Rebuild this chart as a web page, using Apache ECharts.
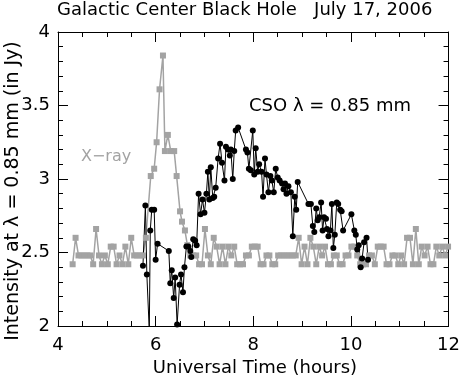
<!DOCTYPE html>
<html>
<head>
<meta charset="utf-8">
<script src="https://cdn.jsdelivr.net/npm/echarts@6/dist/echarts.min.js"></script>
<style>
html,body{margin:0;padding:0;background:#fff;}
#chart{width:463px;height:379px;}
</style>
</head>
<body>
<div id="chart"></div>
<script>
// X-ray (grey squares)
const xrayTime = [4.30,4.36,4.42,4.48,4.54,4.60,4.66,4.72,4.78,4.84,4.90,4.96,5.02,5.08,5.14,5.20,5.26,5.32,5.38,5.44,5.50,5.56,5.62,5.68,5.74,5.80,
  5.90,5.97,6.02,6.08,6.15,6.19,6.25,6.31,6.38,6.43,6.50,6.54,6.60,6.65,6.71,
  6.77,6.83,6.89,6.95,7.01,7.07,7.13,7.19,7.25,7.31,7.37,7.43,7.49,7.55,7.61,7.67,7.73,7.79,7.85,7.91,7.97,
  8.03,8.09,8.15,8.21,8.27,8.33,8.39,8.45,8.51,8.57,8.63,8.69,8.75,8.81,8.87,8.93,8.99,
  9.05,9.11,9.17,9.23,9.29,9.35,9.41,9.47,9.53,9.59,9.65,9.71,9.77,9.83,9.89,9.95,
  10.01,10.07,10.13,10.19,10.25,10.31,10.37,10.43,10.49,10.55,10.61,10.67,10.73,10.79,10.85,10.91,10.97,
  11.03,11.09,11.15,11.21,11.27,11.33,11.39,11.45,11.51,11.57,11.63,11.69,11.75,11.81,11.87,11.93,11.99];
const xrayValue = [2.42,2.60,2.48,2.48,2.48,2.48,2.48,2.42,2.66,2.48,2.42,2.48,2.42,2.54,2.54,2.42,2.48,2.42,2.54,2.42,2.60,2.48,2.48,2.48,2.48,2.60,
  3.02,3.07,3.25,3.61,3.84,3.19,3.30,3.19,3.19,3.02,2.78,2.71,2.65,2.55,2.48,
  2.48,2.48,2.42,2.42,2.66,2.48,2.42,2.60,2.54,2.42,2.54,2.42,2.54,2.48,2.54,2.42,2.42,2.42,2.48,2.48,2.54,
  2.54,2.54,2.42,2.42,2.48,2.48,2.42,2.42,2.48,2.48,2.48,2.48,2.48,2.48,2.48,2.60,2.42,
  2.54,2.42,2.60,2.54,2.42,2.54,2.48,2.54,2.42,2.42,2.48,2.48,2.42,2.42,2.48,2.48,
  2.54,2.54,2.48,2.42,2.42,2.42,2.48,2.48,2.42,2.54,2.54,2.54,2.42,2.42,2.48,2.48,2.42,
  2.48,2.42,2.60,2.60,2.42,2.66,2.42,2.54,2.48,2.54,2.42,2.42,2.54,2.48,2.54,2.48,2.54];

// CSO 0.85 mm (black circles)
const csoTime = [5.74,5.79,5.82,5.87,5.89,5.92,5.97,6.00,6.04,6.27,
  6.30,6.33,6.37,6.40,6.44,6.49,6.52,6.56,6.59,6.63,
  6.67,6.71,6.73,6.77,6.81,6.84,6.88,6.92,6.96,7.00,
  7.04,7.07,7.10,7.13,7.17,7.20,7.23,7.28,7.32,7.36,
  7.41,7.44,7.48,7.52,7.54,7.58,7.61,7.64,7.69,7.85,
  7.88,7.91,7.95,7.99,8.02,8.05,8.09,8.12,8.17,8.20,
  8.24,8.27,8.31,8.35,8.38,8.42,8.46,8.50,8.54,8.59,
  8.62,8.65,8.68,8.72,8.77,8.81,8.85,8.88,8.91,9.13,
  9.18,9.22,9.25,9.29,9.32,9.35,9.39,9.42,9.45,9.49,
  9.51,9.54,9.58,9.61,9.64,9.67,9.71,9.74,9.78,9.81,
  9.84,10.01,10.07,10.10,10.13,10.16,10.20,10.23,10.27,10.32,
  10.35];
const csoValue = [2.41,2.82,2.35,1.97,2.65,2.79,2.79,2.45,2.56,2.51,
  2.29,2.38,2.19,2.33,2.01,2.28,2.35,2.23,2.40,2.54,
  2.54,2.51,2.47,2.59,2.58,2.55,2.90,2.76,2.86,2.77,
  2.90,3.05,2.86,3.08,2.87,2.88,2.94,3.14,3.24,3.11,
  2.99,3.22,3.20,3.16,3.20,3.00,3.19,3.33,3.35,3.20,
  3.18,3.07,3.06,3.33,3.03,3.21,3.05,3.10,3.05,2.88,
  3.14,3.03,2.91,3.02,2.99,2.91,3.07,3.01,2.99,2.97,
  2.93,2.97,2.90,2.95,2.91,2.61,2.88,2.79,2.98,2.83,
  2.83,2.68,2.64,2.80,2.72,2.74,2.84,2.65,2.74,2.73,
  2.66,2.61,2.65,2.83,2.53,2.62,2.84,2.83,2.79,2.78,
  2.65,2.76,2.65,2.62,2.52,2.55,2.40,2.46,2.57,2.60,
  2.45];

const xTicks = [4, 6, 8, 10, 12];
const yTicks = [2, 2.5, 3, 3.5, 4];

const FONT = 'DejaVu Sans';
const chart = echarts.init(document.getElementById('chart'));
const axisCommon = {
  axisLine: {show: true, lineStyle: {color: '#000', width: 1}},
  axisTick: {show: true, inside: true, length: 10, lineStyle: {color: '#000', width: 1}},
  minorTick: {show: true, length: 5, lineStyle: {color: '#000', width: 1}},
  splitLine: {show: false}
};
const xAx = (pos, showLabel) => Object.assign({
  type: 'value', position: pos, min: xTicks[0], max: xTicks[xTicks.length - 1], interval: 2,
  axisLabel: {show: showLabel, color: '#000', fontFamily: FONT, fontSize: 18, margin: 10},
}, axisCommon, {minorTick: Object.assign({}, axisCommon.minorTick, {splitNumber: 4})});
const yAx = (pos, showLabel) => Object.assign({
  type: 'value', position: pos, min: yTicks[0], max: yTicks[yTicks.length - 1], interval: 0.5,
  axisLabel: {show: showLabel, color: '#000', fontFamily: FONT, fontSize: 18, margin: 8},
}, axisCommon, {minorTick: Object.assign({}, axisCommon.minorTick, {splitNumber: 5})});

chart.setOption({
  animation: false,
  backgroundColor: '#fff',
  grid: {left: 58, right: 11, top: 32, bottom: 53, containLabel: false},
  xAxis: [xAx('bottom', true), xAx('top', false)],
  yAxis: [yAx('left', true), yAx('right', false)],
  series: [
    {
      name: 'X-ray', type: 'line', xAxisIndex: 0, yAxisIndex: 0,
      data: xrayTime.map((t, i) => [t, xrayValue[i]]),
      symbol: 'rect', symbolSize: 6,
      itemStyle: {color: '#a3a3a3'},
      lineStyle: {color: '#a3a3a3', width: 1.5},
      clip: true
    },
    {
      name: 'CSO', type: 'line', xAxisIndex: 0, yAxisIndex: 0,
      data: csoTime.map((t, i) => [t, csoValue[i]]),
      symbol: 'circle', symbolSize: 6,
      itemStyle: {color: '#000'},
      lineStyle: {color: '#000', width: 1},
      clip: true
    }
  ],
  graphic: [
    {type: 'text', left: 57, top: 1, style: {text: 'Galactic Center Black Hole   July 17, 2006', fill: '#000', font: '18px "DejaVu Sans"'}},
    {type: 'text', x: 255, y: 368, style: {text: 'Universal Time (hours)', fill: '#000', font: '18px "DejaVu Sans"', textAlign: 'center', textVerticalAlign: 'middle'}},
    {type: 'text', x: 13, y: 191, rotation: Math.PI / 2, style: {text: 'Intensity at λ = 0.85 mm (in Jy)', fill: '#000', font: '19px "DejaVu Sans"', textAlign: 'center', textVerticalAlign: 'middle'}},
    {type: 'text', x: 330, y: 106, style: {text: 'CSO λ = 0.85 mm', fill: '#000', font: '18px "DejaVu Sans"', textAlign: 'center', textVerticalAlign: 'middle'}},
    {type: 'text', x: 81, y: 157, style: {text: 'X−ray', fill: '#a3a3a3', font: '16px "DejaVu Sans"', textAlign: 'left', textVerticalAlign: 'middle'}}
  ]
});
</script>
</body>
</html>
